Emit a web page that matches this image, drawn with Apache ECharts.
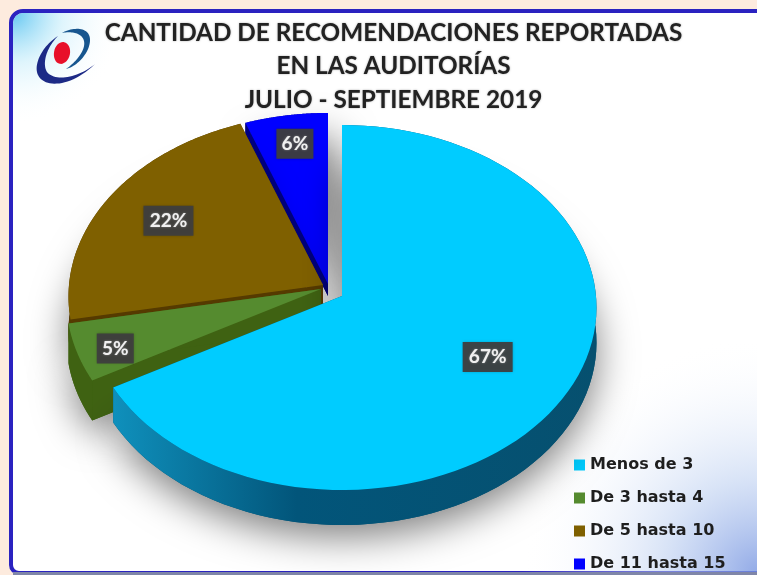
<!DOCTYPE html>
<html><head><meta charset="utf-8">
<style>html,body{margin:0;padding:0;background:#fdebde}#c{width:757px;height:575px}</style>
<script src="https://cdn.jsdelivr.net/npm/echarts@6/dist/echarts.min.js"></script>
</head><body><div id="c"></div>
<script>
const titleLines = ['CANTIDAD DE RECOMENDACIONES REPORTADAS','EN LAS AUDITORÍAS','JULIO - SEPTIEMBRE 2019'];
const categories = ['Menos de 3','De 3 hasta 4','De 5 hasta 10','De 11 hasta 15'];
const values = [66.9,5.1,22.4,5.6];
const colors = ['#00ccff','#558b2f','#7f6000','#0000ff'];
const wallColors = ['#045070','#3f6212','#553a00','#000080'];
// projected-disc geometry
const PIE = {cx:342, cy:296, rx:254, ry:181.8, k:0.063};
const explode = [[0,0],[-21,-7],[-19,-11],[-14,-12]];
const labelR = [0.66,0.83,0.71,0.83];
const labelNudge = [[-2,-1],[-4,7],[-1,-2],[2,1]];
const depths = [35,40,35,12];
const total = values.reduce((a,b)=>a+b,0);
function project(aDeg,r,i){
  const a=aDeg*Math.PI/180, t=-r*Math.cos(a), s=r*Math.sin(a), d=1-PIE.k*t;
  return [PIE.cx+explode[i][0]+PIE.rx*s/d, PIE.cy+explode[i][1]+PIE.ry*t/d];
}
function sliceRender(i){
  return function(params,api){
    const v=api.value(0);
    let start=0; for(let j=0;j<i;j++) start+=values[j];
    const a0=start/total*360, a1=a0+v/total*360, arc=[];
    for(let n=0;n<=90;n++) arc.push(project(a0+(a1-a0)*n/90,1,i));
    const apex=project(0,0,i), D=depths[i], down=p=>[p[0],p[1]+D];
    const top=[apex].concat(arc), bottom=top.map(down);
    const wallFill = i===0 ? new echarts.graphic.LinearGradient(0,0,1,0,[
        {offset:0,color:'#0f90bc'},{offset:0.38,color:'#02557a'},{offset:1,color:'#06506f'}]) : wallColors[i];
    const shadow = {shadowBlur:38,shadowColor:'rgba(0,0,0,0.5)',shadowOffsetX:i===3?9:0,shadowOffsetY:12};
    const last=arc[arc.length-1], m=project((a0+a1)/2,labelR[i],i), mid=[m[0]+labelNudge[i][0],m[1]+labelNudge[i][1]];
    const quad=(p,q)=>({type:'polygon',shape:{points:[p,q,down(q),down(p)]},style:{fill:wallColors[i]}});
    const txt=Math.round(v)+'%', w=txt.length>2?50:37;
    return {type:'group',children:[
      {type:'polygon',shape:{points:bottom},style:Object.assign({fill:wallColors[i]},shadow)},
      quad(apex,arc[0]),quad(apex,last),
      {type:'polygon',shape:{points:arc.concat(arc.map(down).reverse())},style:{fill:wallFill}},
      {type:'polygon',shape:{points:top},style:{fill:colors[i]}},
      {type:'rect',shape:{x:mid[0]-w/2,y:mid[1]-15,width:w,height:30},style:{fill:'rgba(62,62,62,0.95)',shadowBlur:3,shadowColor:'rgba(0,0,0,.3)'}},
      {type:'text',style:{x:mid[0],y:mid[1],text:txt,fill:'#f0f0f0',font:'bold 19px Lato',align:'center',verticalAlign:'middle',textShadowBlur:2,textShadowColor:'rgba(255,255,255,.4)'}}
    ]};
  };
}
function bez(p0,c1,c2,p1){const o=[];for(let n=1;n<=24;n++){const t=n/24,u=1-t;
  o.push([u*u*u*p0[0]+3*u*u*t*c1[0]+3*u*t*t*c2[0]+t*t*t*p1[0],u*u*u*p0[1]+3*u*u*t*c1[1]+3*u*t*t*c2[1]+t*t*t*p1[1]]);}return o;}
function chain(start,segs){let pts=[start],cur=start;segs.forEach(s=>{pts=pts.concat(bez(cur,s[0],s[1],s[2]));cur=s[2];});return pts;}
const logoLow=chain([58,36],[[[42,46],[33,65],[38,75]],[[44,88],[70,88],[95,64]],[[78,78],[55,82],[47,72]],[[42,64],[46,48],[58,36]]]);
const logoUp=chain([62,33],[[[72,27],[90,26],[90,40]],[[90,52],[78,66],[66,69]],[[76,62],[86,50],[84,41]],[[82,33],[72,31],[62,33]]]);
const chart=echarts.init(document.getElementById('c'),null,{renderer:'canvas'});
chart.setOption({
  animation:false,
  color:colors,
  backgroundColor:'#fdebde',
  graphic:{elements:[
    {type:'rect',z:-10,shape:{x:11,y:11,width:760,height:562,r:[12,0,0,8]},
      style:{fill:'#ffffff',stroke:'#2a22c0',lineWidth:4}},
    {type:'rect',z:-9,shape:{x:13,y:13,width:744,height:558,r:[10,0,0,6]},
      style:{fill:new echarts.graphic.RadialGradient(0,0,0.2,[
        {offset:0,color:'rgba(90,195,240,0.95)'},{offset:0.45,color:'rgba(190,235,250,0.5)'},{offset:1,color:'rgba(255,255,255,0)'}])}},
    {type:'rect',z:-9,shape:{x:13,y:13,width:744,height:559},
      style:{fill:new echarts.graphic.RadialGradient(1,1,0.42,[
        {offset:0,color:'rgba(120,150,225,0.8)'},{offset:0.4,color:'rgba(185,205,240,0.55)'},{offset:1,color:'rgba(255,255,255,0)'}])}},
    {type:'rect',z:-8,shape:{x:13,y:572,width:744,height:3},style:{fill:'#7f86a8'}},
    {type:'polygon',z:5,shape:{points:logoLow},style:{fill:'#1c2a86'}},
    {type:'polygon',z:5,shape:{points:logoUp},style:{fill:'#17568f'}},
    {type:'ellipse',z:6,shape:{cx:62,cy:53,rx:8,ry:11},rotation:-0.2,originX:62,originY:53,style:{fill:'#e8102a'}}
  ]},
  title:{text:titleLines.join('\n'),left:388.5,top:11,textAlign:'center',
    textStyle:{fontFamily:'Lato',fontWeight:'bold',fontSize:24.3,lineHeight:33.5,color:'#222222',textShadowBlur:2,textShadowColor:'rgba(0,0,0,0.35)'}},
  legend:{data:categories,orient:'vertical',left:574,top:457,padding:0,itemWidth:11,itemHeight:11,itemGap:17,icon:'rect',
    textStyle:{fontFamily:'DejaVu Sans',fontWeight:'bold',fontSize:16,color:'#1e1e1e',lineHeight:16}},
  series:categories.map((name,i)=>({
    type:'custom',name,coordinateSystem:'none',z:5-i,
    silent:true,data:[[values[i]]],renderItem:sliceRender(i)
  }))
});
</script></body></html>
